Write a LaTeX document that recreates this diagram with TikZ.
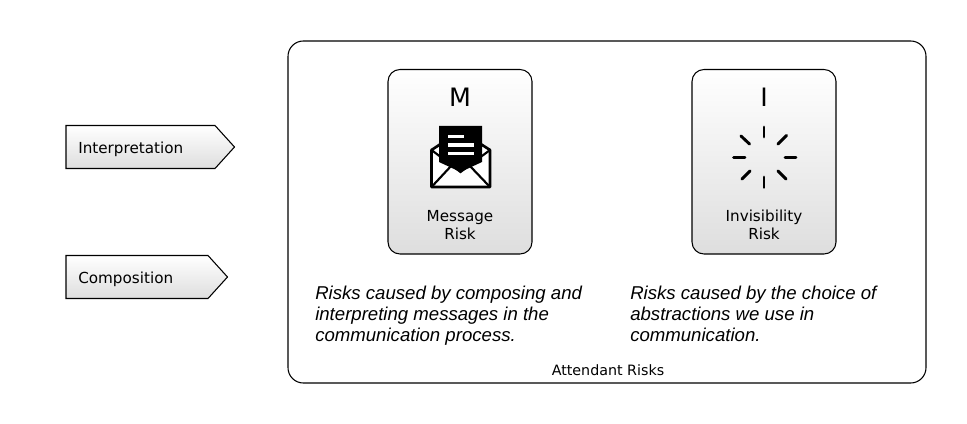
\documentclass[tikz,border=0pt]{standalone}
\usepackage{fontspec}
\setmainfont{DejaVu Sans}
\newfontfamily\descfont{Liberation Sans}
\tikzset{
  x=0.75pt,y=-0.75pt,
  outer/.style={draw=black,line width=0.8pt,rounded corners=11.5pt},
  card/.style={draw=black,line width=0.8pt,rounded corners=9pt,top color=white,bottom color=black!13},
  tag/.style={draw=black,line width=0.8pt,top color=white,bottom color=black!13},
  lbl/.style={font=\fontsize{11.4pt}{13.5pt}\selectfont,align=center,inner sep=0pt},
  letter/.style={font=\fontsize{19pt}{21pt}\selectfont,inner sep=0pt},
  desc/.style={font=\descfont\itshape\fontsize{13.95pt}{15.5pt}\selectfont,align=left,inner sep=0pt,anchor=north west},
  tick/.style={line width=2.2pt,line cap=round},
}
\begin{document}
\begin{tikzpicture}
\useasboundingbox (0,0) rectangle (967,424);
\fill[white] (0,0) rectangle (967,424);
% outer
\draw[outer] (288,41) rectangle (926,383);
\node[lbl,font=\fontsize{10.7pt}{12pt}\selectfont] (att) at (608,370) {Attendant Risks};
% tags
\draw[tag] (66,125.5) -- (215,125.5) -- (234.5,147) -- (215,168.5) -- (66,168.5) -- cycle;
\node[lbl,anchor=west] (interp) at (78,149) {Interpretation};
\draw[tag] (66,255.5) -- (208,255.5) -- (227.5,277) -- (208,298.5) -- (66,298.5) -- cycle;
\node[lbl,anchor=west] (comp) at (78,279) {Composition};
% cards
\draw[card] (388,69.5) rectangle (532,254);
\node[letter] (m) at (460,97) {M};
\node[lbl] (mr) at (460,225.5) {Message\\Risk};
\draw[card] (692,69.5) rectangle (836,254);
\node[letter] (i) at (764,97) {I};
\node[lbl] (ir) at (764,224.5) {Invisibility\\Risk};
% envelope
\draw[line width=2pt,line join=round,fill=white] (431.5,150) -- (431.5,187) -- (490,187) -- (490,150) -- (460.5,131) -- cycle;
\draw[line width=1.6pt] (431.5,187) -- (452,165);
\draw[line width=1.6pt] (490,187) -- (469,165);
\fill[black] (439,126) -- (482,126) -- (482,162) -- (460.5,172) -- (439,162) -- cycle;
\draw[line width=1.6pt] (431.5,150) -- (460.5,172) -- (490,150);
\fill[white] (447.5,135) rectangle (463.5,138.5);
\fill[white] (447.5,143.5) rectangle (473.5,147);
\fill[white] (447.5,152) rectangle (473.5,155.5);
% spinner
\draw[tick] (764,127) -- (764,137);
\draw[tick] (764,177) -- (764,187.5);
\draw[tick] (733.5,157.5) -- (745,157.5);
\draw[tick] (785,157.5) -- (796,157.5);
\draw[tick] (741,136) -- (749.5,144);
\draw[tick] (778,144) -- (786.5,135.5);
\draw[tick] (742,179) -- (750,171);
\draw[tick] (778,171) -- (786,179);
% descriptions
\node[desc] (d1) at (315,286) {Risks caused by composing and\\interpreting messages in the\\communication process.};
\node[desc] (d2) at (630,286) {Risks caused by the choice of\\abstractions we use in\\communication.};
\end{tikzpicture}
\end{document}
